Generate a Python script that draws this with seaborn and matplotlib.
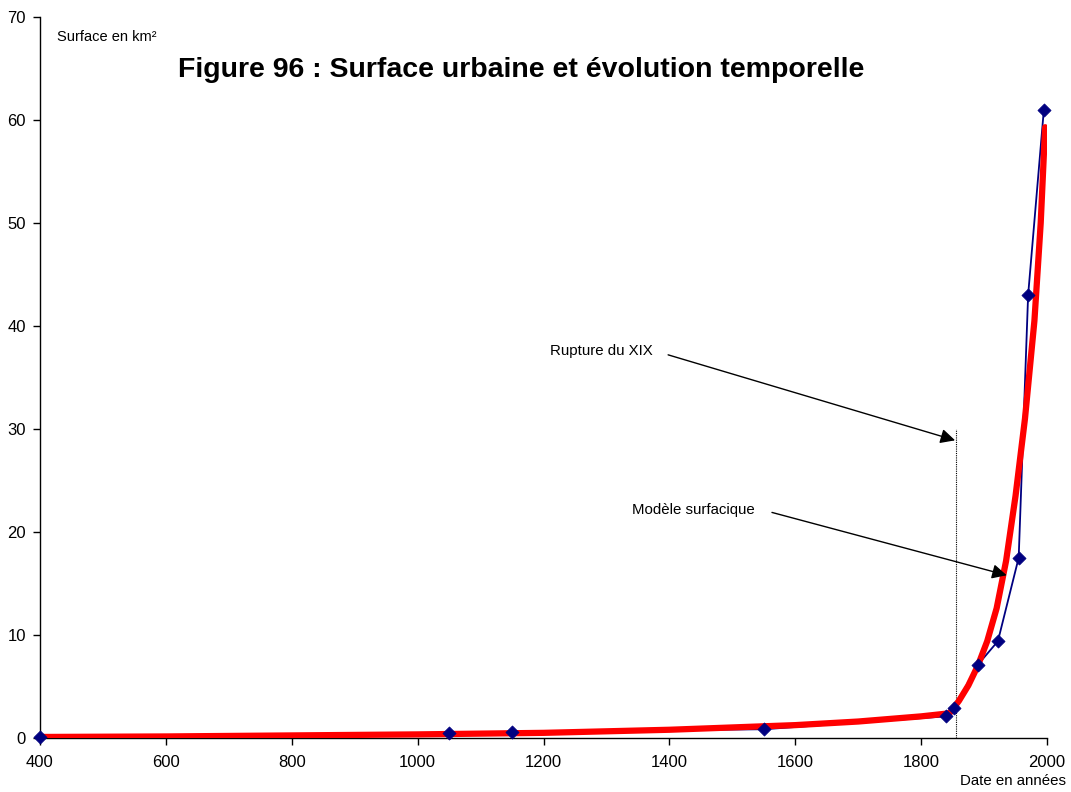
import matplotlib
matplotlib.use("Agg")
import matplotlib.pyplot as plt
import seaborn as sns
import pandas as pd

# Observed urban surface (km²) by year
years_obs = [400, 1050, 1150, 1550, 1840, 1852, 1890, 1922, 1955, 1970, 1995]
surface_obs = [0.1, 0.5, 0.6, 0.85, 2.1, 2.9, 7.1, 9.4, 17.5, 43.0, 61.0]

# Fitted surface model
years_model = [400, 600, 800, 1000, 1200, 1400, 1600, 1700, 1800, 1845, 1860,
               1875, 1890, 1905, 1920, 1935, 1950, 1965, 1980, 1990, 1997]
surface_model = [0.1, 0.15, 0.25, 0.35, 0.5, 0.8, 1.25, 1.6, 2.1, 2.4, 3.6,
                 5.1, 7.0, 9.4, 12.6, 17.2, 23.5, 31.0, 40.5, 50.0, 59.3]

x_ticks = list(range(400, 2001, 200))
y_ticks = list(range(0, 71, 10))

sns.set_theme(style="ticks")
plt.rcParams["font.family"] = ["Liberation Sans", "DejaVu Sans"]
plt.rcParams["text.color"] = "black"
plt.rcParams["xtick.color"] = "black"
plt.rcParams["ytick.color"] = "black"
plt.rcParams["xtick.labelcolor"] = "black"
plt.rcParams["ytick.labelcolor"] = "black"

fig = plt.figure(figsize=(10.71, 7.92), dpi=100)
ax = fig.add_axes([40 / 1071, 1 - 738 / 792, 1007 / 1071, 721 / 792])

df_obs = pd.DataFrame({"annee": years_obs, "surface": surface_obs})
df_model = pd.DataFrame({"annee": years_model, "surface": surface_model})

navy = "#000080"
# observed series line, model curve over it, then observed markers on top
sns.lineplot(data=df_obs, x="annee", y="surface", ax=ax, color=navy,
             linewidth=1.3, zorder=2)
sns.lineplot(data=df_model, x="annee", y="surface", ax=ax, color="#ff0000",
             linewidth=4.5, zorder=3)
sns.scatterplot(data=df_obs, x="annee", y="surface", ax=ax, color=navy,
                marker="D", s=45, edgecolor=navy, linewidth=0.5, zorder=4,
                clip_on=False)

# 19th-century break marker
ax.vlines(1856, 0, 30, colors="black", linestyles=(0, (1, 1)), linewidth=0.8, zorder=1)

arrow = dict(arrowstyle="-|>", color="black", lw=1.0, mutation_scale=22,
             shrinkA=0, shrinkB=0)
ax.annotate("", xy=(1854, 28.9), xytext=(1398, 37.2), arrowprops=arrow)
ax.text(1374, 37.6, "Rupture du XIX", ha="right", va="center", fontsize=10.8)
ax.annotate("", xy=(1936, 15.8), xytext=(1563, 21.9), arrowprops=arrow)
ax.text(1536, 22.1, "Modèle surfacique", ha="right", va="center", fontsize=10.8)

ax.set_xlim(400, 2000)
ax.set_ylim(0, 70)
ax.set_xticks(x_ticks)
ax.set_yticks(y_ticks)
ax.tick_params(axis="both", labelsize=12, length=5, width=1, color="black",
               labelcolor="black", direction="out")
ax.tick_params(axis="x", pad=7)
ax.tick_params(axis="y", pad=5)
ax.set_xlabel("")
ax.set_ylabel("")
sns.despine(ax=ax)
for s in ("left", "bottom"):
    ax.spines[s].set_color("black")
    ax.spines[s].set_linewidth(1)

fig.text(57 / 1071, 1 - 37 / 792, "Surface en km²", fontsize=10.5, ha="left", va="center")
fig.text(1066 / 1071, 1 - 781 / 792, "Date en années", fontsize=10.8, ha="right", va="center")
fig.text(521 / 1071, 1 - 70 / 792, "Figure 96 : Surface urbaine et évolution temporelle",
         fontsize=20.5, fontweight="bold", ha="center", va="center")

fig.savefig("out.png", dpi=100)
